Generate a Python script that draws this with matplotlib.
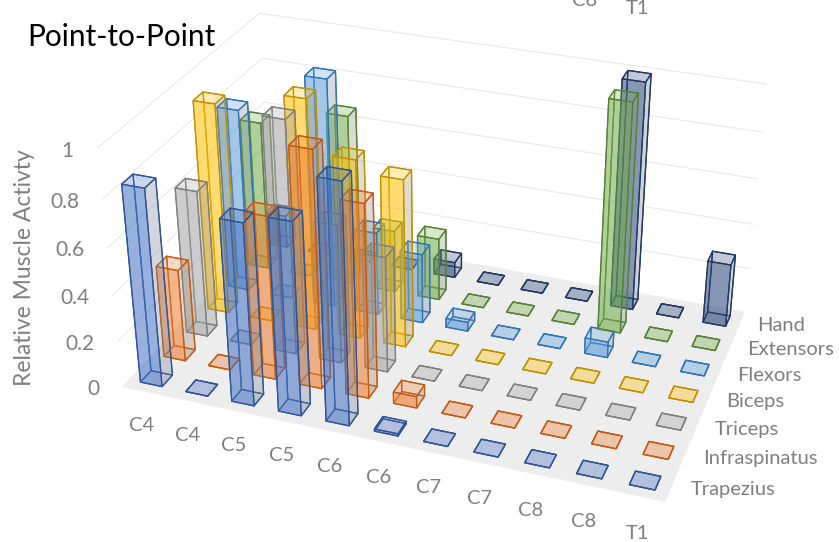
import numpy as np
import matplotlib
matplotlib.use("Agg")
import matplotlib.pyplot as plt
from mpl_toolkits.mplot3d import proj3d

# muscle activity per spinal level, one list per muscle
levels = ["C4", "C4", "C5", "C5", "C6", "C6", "C7", "C7", "C8", "C8", "T1"]
muscles = ["Trapezius", "Infraspinatus", "Triceps", "Biceps", "Flexors", "Extensors", "Hand"]
trapezius = [0.84, 0, 0.77, 0.81, 1.00, 0.01, 0, 0, 0, 0, 0]
infraspinatus = [0.40, 0, 0.70, 1.00, 0.82, 0.05, 0, 0, 0, 0, 0]
triceps = [0.64, 0, 1.00, 0.60, 0.50, 0, 0, 0, 0, 0, 0]
biceps = [0.92, 0, 1.00, 0.78, 0.73, 0, 0, 0, 0, 0, 0]
flexors = [0.81, 0, 1.00, 0.37, 0.31, 0.04, 0, 0, 0.07, 0, 0]
extensors = [0.67, 0, 0.76, 0.28, 0.28, 0, 0, 0, 1.00, 0, 0]
hand = [0.15, 0, 0, 0, 0.07, 0, 0, 0, 1.00, 0, 0.28]
series = [trapezius, infraspinatus, triceps, biceps, flexors, extensors, hand]
ticks = [0, 0.2, 0.4, 0.6, 0.8, 1]

fills = ["#4472C4", "#ED7D31", "#A5A5A5", "#FFC000", "#5B9BD5", "#70AD47", "#264478"]
edges = ["#2F5597", "#C55A11", "#7F7F7F", "#BF9000", "#2E75B6", "#548235", "#1F3864"]
text_grey = "#7F7F7F"
W, H = 839, 542

plt.rcParams["font.family"] = ["Lato", "DejaVu Sans"]

fig = plt.figure(figsize=(W / 100, H / 100), dpi=100)
ax = fig.add_subplot(projection="3d", position=[0, 0, 1, 1])
ax.set_axis_off()
ax.computed_zorder = False
ax.set_xlim(0, 11, view_margin=0)
ax.set_ylim(0, 7, view_margin=0)
ax.set_zlim(0, 1, view_margin=0)
ax.view_init(elev=28.724, azim=-70.153)
ax.set_proj_type("persp", focal_length=0.49)
ax.set_box_aspect((2.094, 1.339, 1))


# size and move the axes so one view unit is `scale` pixels and view (0, 0) lands on (tx, ty)
def place_axes(scale, tx, ty):
    ax.apply_aspect()
    box = ax.get_position()
    side0 = box.width * W
    p0 = ax.transData.transform((0, 0))
    p1 = ax.transData.transform((1, 0))
    unit = p1[0] - p0[0]
    fx = (p0[0] - box.x0 * W) / side0
    fy = (p0[1] - box.y0 * H) / side0
    side = side0 * scale / unit
    ax.set_position([(tx - fx * side) / W, (ty - fy * side) / H, side / W, side / H])
    ax.apply_aspect()


place_axes(3735.0, 444.01, 306.54)


# text anchored at a 3d point, drawn as plain figure text
def label3d(x, y, z, s, **kw):
    px, py, _ = proj3d.proj_transform(x, y, z, ax.get_proj())
    fx, fy = fig.transFigure.inverted().transform(ax.transData.transform((px, py)))
    fig.text(fx, fy, s, color=text_grey, va="center", **kw)


# floor and wall gridlines
ax.plot_surface(np.array([[0, 11], [0, 11]]), np.array([[0, 0], [7, 7]]), np.zeros((2, 2)),
                color="#EDEDED", shade=False, linewidth=0, zorder=1)
for t in ticks[1:]:
    ax.plot([0, 0, 11], [0, 7, 7], [t, t, t], color="#EBEBEB", lw=0.9, zorder=0)

# bars, faces in bar3d order: base, top, -y, +y, -x, +x
xs, ys, hs, face_cols, edge_cols = [], [], [], [], []
for j, vals in enumerate(series):
    for i, v in enumerate(vals):
        xs.append(i + 0.26)
        ys.append(j + 0.28)
        hs.append(v)
        r, g, b, _ = matplotlib.colors.to_rgba(fills[j])
        face_cols += [(r, g, b, 0.2), (r, g, b, 0.2), (r, g, b, 0.5), (r, g, b, 0.1),
                      (r, g, b, 0.1), (0.55, 0.55, 0.55, 0.25)]
        edge_cols += [edges[j]] * 6
ax.bar3d(xs, ys, 0, 0.48, 0.44, hs, color=face_cols, edgecolor=edge_cols, linewidth=0.9,
         shade=False, zorder=2)

# labels
for x, name in zip(np.linspace(1.0, 10.75, len(levels)), levels):
    label3d(x, -1.05, 0, name, ha="center", fontsize=14.5)
for j, name in enumerate(muscles):
    label3d(11.35, j + 0.53, 0, name, ha="left", fontsize=14.5)
for t in ticks:
    label3d(-0.52, 0, t - 0.03, f"{t:g}", ha="right", fontsize=15)

fig.text(27 / W, 1 - 37 / H, "Point-to-Point", color="black", fontsize=21.5, va="center", ha="left")
fig.text(25 / W, 1 - 268 / H, "Relative Muscle Activty", color=text_grey, fontsize=16.5,
         rotation=90, ha="center", va="center")
fig.text(585 / W, 1 - 0 / H, "C8", color=text_grey, fontsize=14.5, ha="center", va="center")
fig.text(637 / W, 1 - 9 / H, "T1", color=text_grey, fontsize=14.5, ha="center", va="center")

fig.savefig("out.png", dpi=100)
